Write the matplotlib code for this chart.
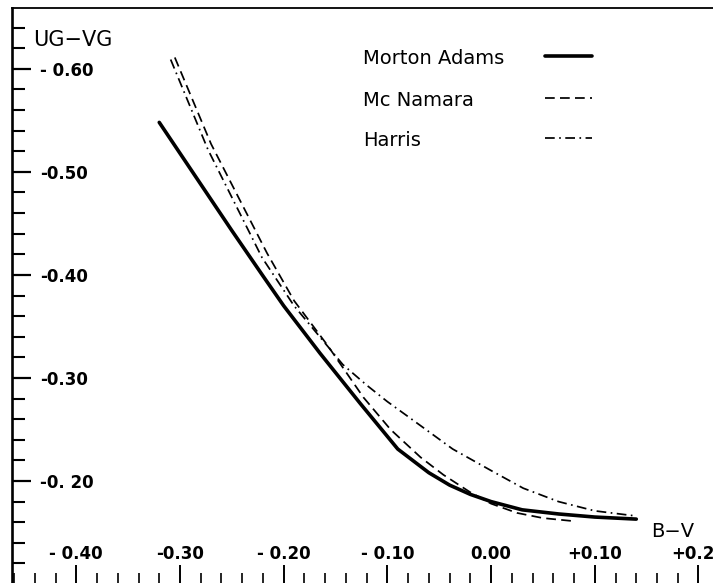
import matplotlib

matplotlib.use("Agg")
import matplotlib.pyplot as plt
from matplotlib.ticker import MultipleLocator

# curves (B-V, UG-VG)
morton_bv = [-0.32, -0.30, -0.28, -0.25, -0.22, -0.20, -0.165, -0.126, -0.09,
             -0.06, -0.04, -0.02, 0.00, 0.03, 0.065, 0.10, 0.14]
morton_ugvg = [-0.548, -0.518, -0.488, -0.443, -0.399, -0.370, -0.324, -0.275, -0.231,
               -0.208, -0.196, -0.187, -0.180, -0.172, -0.168, -0.165, -0.163]

mcnamara_bv = [-0.305, -0.27, -0.216, -0.19, -0.158, -0.123, -0.097, -0.068,
               -0.046, -0.02, 0.00, 0.025, 0.05, 0.08]
mcnamara_ugvg = [-0.611, -0.527, -0.421, -0.375, -0.332, -0.281, -0.250, -0.223,
                 -0.206, -0.189, -0.178, -0.169, -0.164, -0.161]

harris_bv = [-0.309, -0.273, -0.221, -0.19, -0.143, -0.12, -0.10, -0.078,
             -0.037, 0.002, 0.031, 0.065, 0.10, 0.14]
harris_ugvg = [-0.609, -0.5215, -0.417, -0.370, -0.313, -0.293, -0.277, -0.261,
               -0.231, -0.209, -0.193, -0.180, -0.171, -0.166]

series_names = ["Morton Adams", "Mc Namara", "Harris"]

x_ticks = [-0.40, -0.30, -0.20, -0.10, 0.00, 0.10, 0.20]
x_labels = ["- 0.40", "-0.30", "- 0.20", "- 0.10", "0.00", "+0.10", "+0.20"]
y_ticks = [-0.60, -0.50, -0.40, -0.30, -0.20]
y_labels = ["- 0.60", "-0.50", "-0.40", "-0.30", "-0. 20"]

plt.rcParams["font.family"] = ["DejaVu Sans"]
plt.rcParams["lines.scale_dashes"] = False

W, H = 713, 583
fig = plt.figure(figsize=(W / 100, H / 100), dpi=100)
ax = fig.add_axes([12 / W, 0, (W - 12) / W, (H - 8) / H])

styles = [
    dict(color="black", lw=2.6, solid_capstyle="round"),
    dict(color="black", lw=1.25, dashes=(7, 3.8)),
    dict(color="black", lw=1.25, dashes=(7, 3.2, 1.2, 3.2)),
]
data = [(morton_bv, morton_ugvg), (mcnamara_bv, mcnamara_ugvg), (harris_bv, harris_ugvg)]
for (bv, ug), st in zip(data, styles):
    ax.plot(bv, ug, **st)

ax.set_xlim(-0.462, 0.214)
ax.set_ylim(-0.101, -0.659)

ax.set_xticks(x_ticks)
ax.set_xticklabels(x_labels)
ax.set_yticks(y_ticks)
ax.set_yticklabels(y_labels)
ax.xaxis.set_minor_locator(MultipleLocator(0.02))
ax.yaxis.set_minor_locator(MultipleLocator(0.02))

ax.tick_params(axis="both", which="both", direction="in", color="black")
ax.tick_params(axis="x", which="major", length=13, width=1.4, pad=-14.5,
               labelsize=12)
ax.tick_params(axis="x", which="minor", length=7.5, width=1.2)
ax.tick_params(axis="y", which="major", length=14, width=1.6, pad=-20,
               labelsize=12)
ax.tick_params(axis="y", which="minor", length=9, width=1.5)
for lab in ax.get_xticklabels():
    lab.set_verticalalignment("bottom")
    lab.set_fontweight("bold")
for lab in ax.get_yticklabels():
    lab.set_horizontalalignment("left")
    lab.set_fontweight("bold")

ax.spines["right"].set_visible(False)
ax.spines["bottom"].set_visible(False)
ax.spines["left"].set_linewidth(1.9)
ax.spines["top"].set_linewidth(1.3)

ax.text(0.030, 0.944, "UG\u2212VG", transform=ax.transAxes, fontsize=15,
        va="center", ha="left")
ax.text(0.912, 0.090, "B\u2212V", transform=ax.transAxes, fontsize=14,
        va="center", ha="left")

# hand-placed legend: names left, keys to the right
leg_y = [0.913, 0.840, 0.770]
for name, st, yy in zip(series_names, styles, leg_y):
    ax.text(0.5007, yy, name, transform=ax.transAxes, fontsize=14,
            va="center", ha="left")
    ax.plot([0.760, 0.827], [yy + 0.004, yy + 0.004], transform=ax.transAxes,
            **st)

fig.savefig("out.png", dpi=100)
